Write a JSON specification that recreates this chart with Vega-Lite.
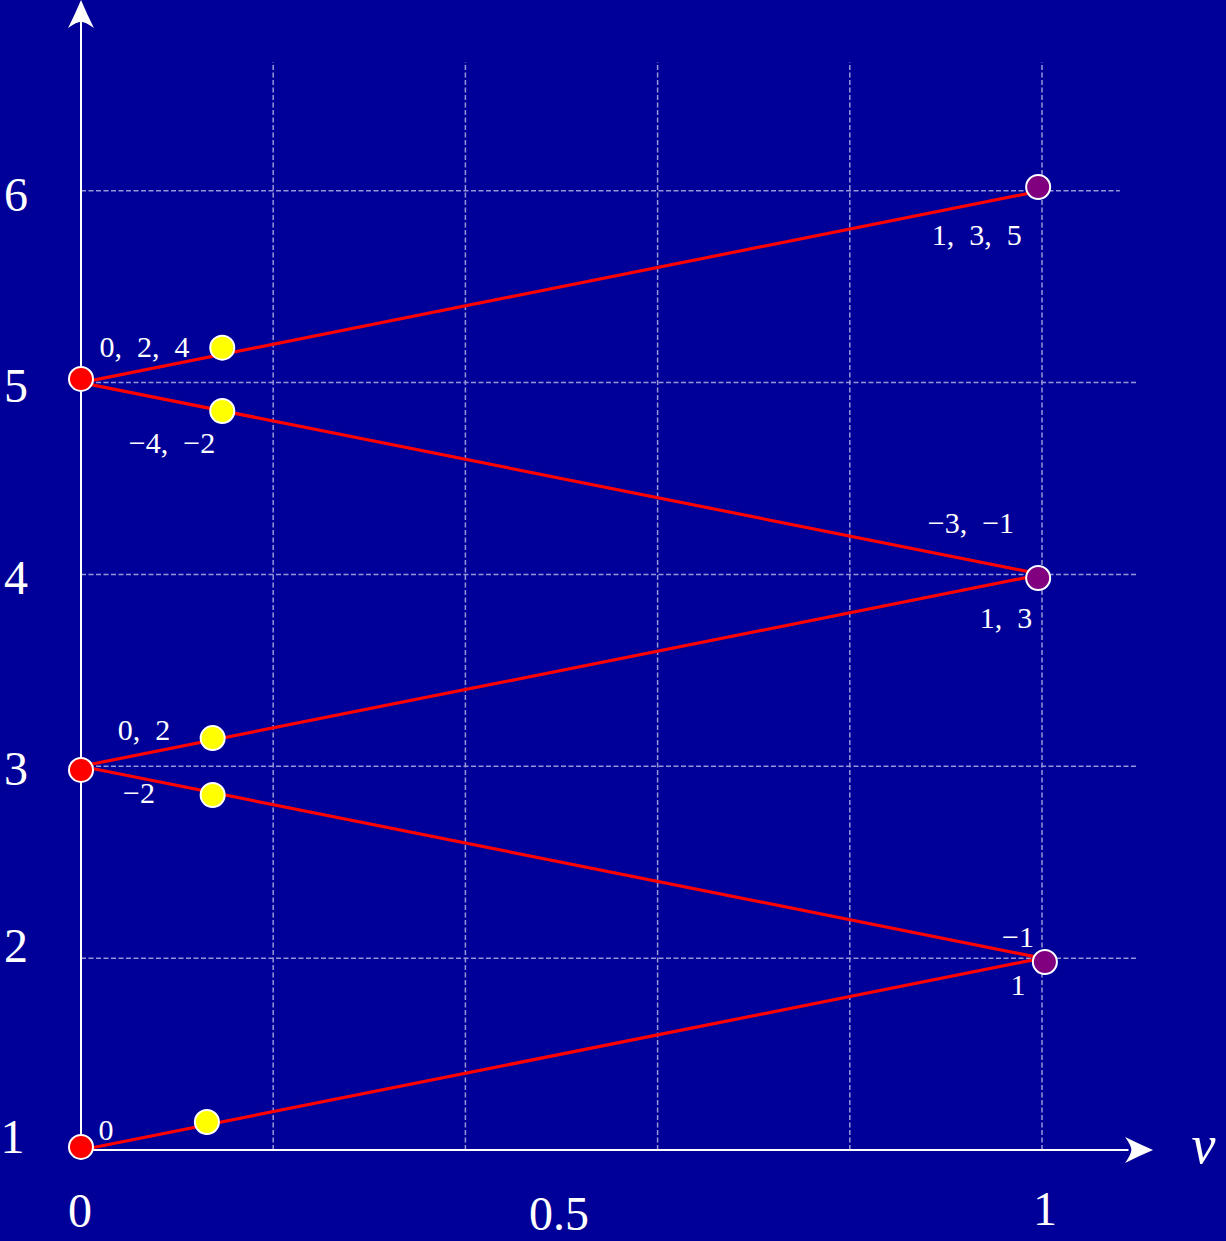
{
  "$schema": "https://vega.github.io/schema/vega-lite/v6.json",
  "width": 1226,
  "height": 1241,
  "padding": 0,
  "autosize": {"type": "none"},
  "background": "#000099",
  "config": {"view": {"stroke": null}},
  "datasets": {
    "grid": [
      {"v": 0.2, "u": 1, "v2": 0.2, "u2": 6.671},
      {"v": 0.4, "u": 1, "v2": 0.4, "u2": 6.671},
      {"v": 0.6, "u": 1, "v2": 0.6, "u2": 6.671},
      {"v": 0.8, "u": 1, "v2": 0.8, "u2": 6.671},
      {"v": 1.0, "u": 1, "v2": 1.0, "u2": 6.671},
      {"v": 0, "u": 2, "v2": 1.1, "u2": 2},
      {"v": 0, "u": 3, "v2": 1.1, "u2": 3},
      {"v": 0, "u": 4, "v2": 1.1, "u2": 4},
      {"v": 0, "u": 5, "v2": 1.1, "u2": 5},
      {"v": 0, "u": 6, "v2": 1.081, "u2": 6}
    ],
    "axisLines": [
      {"v": 0, "u": 1, "v2": 1.09, "u2": 1},
      {"v": 0, "u": 1, "v2": 0, "u2": 6.92}
    ],
    "zigzag": [
      {"v": 0, "u": 1, "k": 1},
      {"v": 1, "u": 2, "k": 2},
      {"v": 0, "u": 3, "k": 3},
      {"v": 1, "u": 4, "k": 4},
      {"v": 0, "u": 5, "k": 5},
      {"v": 1, "u": 6, "k": 6}
    ],
    "dots": [
      {"v": 0, "u": 1.016, "group": "start"},
      {"v": 0, "u": 2.981, "group": "start"},
      {"v": 0, "u": 5.019, "group": "start"},
      {"v": 0.131, "u": 1.146, "group": "mid"},
      {"v": 0.137, "u": 3.147, "group": "mid"},
      {"v": 0.137, "u": 2.85, "group": "mid"},
      {"v": 0.147, "u": 5.182, "group": "mid"},
      {"v": 0.147, "u": 4.852, "group": "mid"},
      {"v": 1.003, "u": 1.98, "group": "end"},
      {"v": 0.996, "u": 3.981, "group": "end"},
      {"v": 0.996, "u": 6.019, "group": "end"}
    ],
    "notes": [
      {"v": 0.026, "u": 1.052, "label": "0"},
      {"v": 0.066, "u": 5.135, "label": "0,\u20022,\u20024"},
      {"v": 0.0947, "u": 4.633, "label": "\u22124,\u2002\u22122"},
      {"v": 0.0656, "u": 3.137, "label": "0,\u20022"},
      {"v": 0.0604, "u": 2.809, "label": "\u22122"},
      {"v": 0.932, "u": 5.717, "label": "1,\u20023,\u20025"},
      {"v": 0.926, "u": 4.216, "label": "\u22123,\u2002\u22121"},
      {"v": 0.9625, "u": 3.721, "label": "1,\u20023"},
      {"v": 0.975, "u": 2.058, "label": "\u22121"},
      {"v": 0.975, "u": 1.808, "label": "1"}
    ],
    "tickLabels": [
      {"v": -0.0713, "u": 0.984, "label": "1"},
      {"v": -0.0676, "u": 1.98, "label": "2"},
      {"v": -0.0676, "u": 2.902, "label": "3"},
      {"v": -0.0676, "u": 3.898, "label": "4"},
      {"v": -0.0676, "u": 4.899, "label": "5"},
      {"v": -0.0676, "u": 5.896, "label": "6"},
      {"v": -0.001, "u": 0.5987, "label": "0"},
      {"v": 0.4974, "u": 0.583, "label": "0.5"},
      {"v": 1.003, "u": 0.6091, "label": "1"}
    ]
  },
  "encoding": {
    "x": {"field": "v", "type": "quantitative", "axis": null,
          "scale": {"domain": [-0.08429, 1.19147], "nice": false, "zero": false}},
    "y": {"field": "u", "type": "quantitative", "axis": null,
          "scale": {"domain": [0.5257, 6.99396], "nice": false, "zero": false}}
  },
  "layer": [
    {
      "data": {"name": "grid"},
      "mark": {"type": "rule", "color": "#9696d8", "strokeWidth": 1.5, "strokeDash": [5, 2.5]},
      "encoding": {"x2": {"field": "v2"}, "y2": {"field": "u2"}}
    },
    {
      "data": {"name": "axisLines"},
      "mark": {"type": "rule", "color": "white", "strokeWidth": 2},
      "encoding": {"x2": {"field": "v2"}, "y2": {"field": "u2"}}
    },
    {
      "data": {"values": [{"v": 1.101, "u": 1}]},
      "mark": {"type": "point", "filled": true, "color": "white", "opacity": 1, "size": 784,
               "shape": "M1,0 Q0.05,-0.4 -1,-0.92 Q-0.55,-0.3 -0.55,0 Q-0.55,0.3 -1,0.92 Q0.05,0.4 1,0 Z"}
    },
    {
      "data": {"values": [{"v": 0, "u": 6.921}]},
      "mark": {"type": "point", "filled": true, "color": "white", "opacity": 1, "size": 784,
               "shape": "M0,-1 Q-0.4,-0.05 -0.92,1 Q-0.3,0.55 0,0.55 Q0.3,0.55 0.92,1 Q0.4,-0.05 0,-1 Z"}
    },
    {
      "data": {"name": "zigzag"},
      "mark": {"type": "line", "color": "#ff0000", "strokeWidth": 3.2},
      "encoding": {"order": {"field": "k", "type": "quantitative"}}
    },
    {
      "data": {"name": "dots"},
      "mark": {"type": "point", "shape": "circle", "filled": true, "size": 576, "opacity": 1,
               "stroke": "white", "strokeWidth": 2},
      "encoding": {
        "fill": {"field": "group", "type": "nominal", "legend": null,
                 "scale": {"domain": ["start", "mid", "end"], "range": ["#ff0000", "#ffff00", "#800080"]}}
      }
    },
    {
      "data": {"name": "notes"},
      "mark": {"type": "text", "font": "Liberation Serif", "fontSize": 30, "color": "white",
               "align": "center", "baseline": "alphabetic"},
      "encoding": {"text": {"field": "label"}}
    },
    {
      "data": {"name": "tickLabels"},
      "mark": {"type": "text", "font": "Liberation Serif", "fontSize": 48, "color": "white",
               "align": "center", "baseline": "alphabetic"},
      "encoding": {"text": {"field": "label"}}
    },
    {
      "data": {"values": [{"v": 1.168, "u": 0.932, "label": "ν"}]},
      "mark": {"type": "text", "font": "Liberation Serif", "fontStyle": "italic", "fontSize": 54,
               "color": "white", "align": "center", "baseline": "alphabetic"},
      "encoding": {"text": {"field": "label"}}
    }
  ]
}
